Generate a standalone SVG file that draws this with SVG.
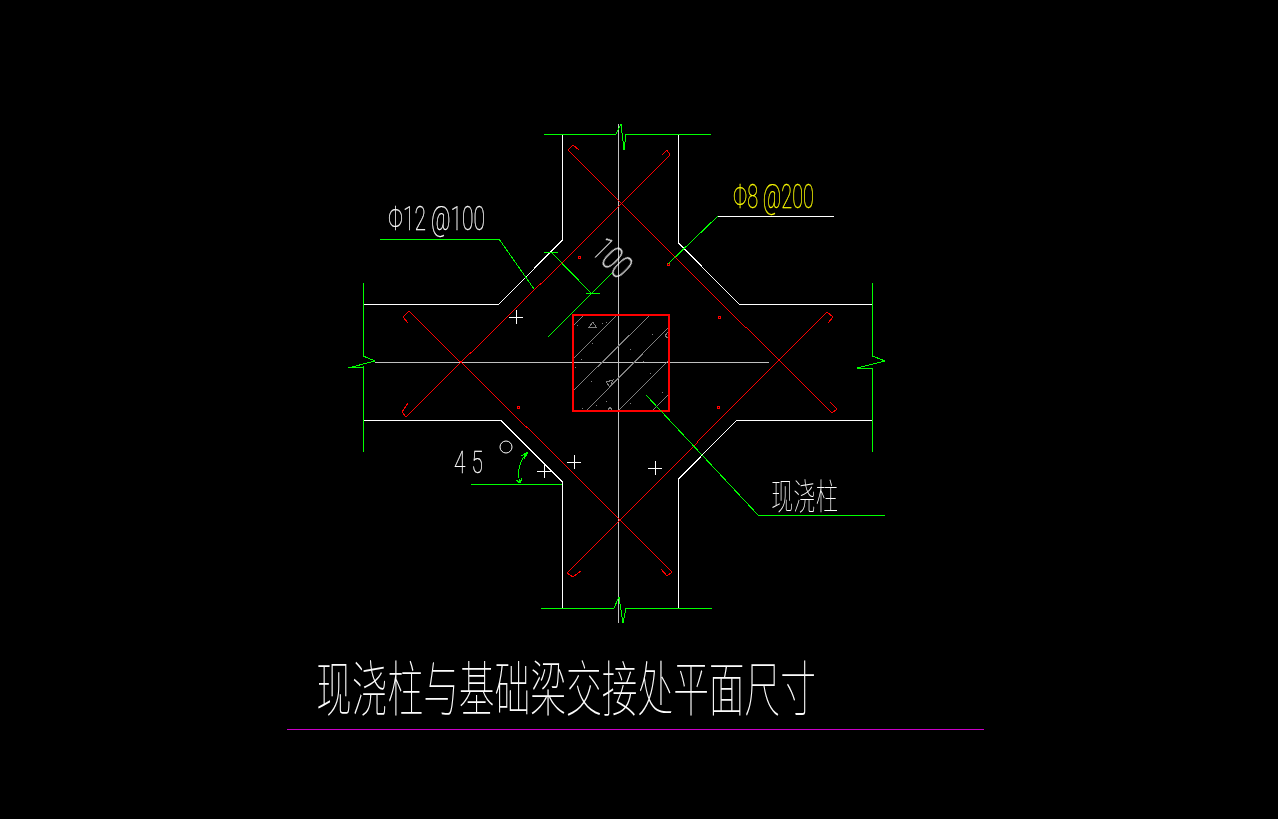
<svg xmlns="http://www.w3.org/2000/svg" width="1278" height="819" viewBox="0 0 1278 819">
<style>
.l{fill:none;stroke-width:1;shape-rendering:crispEdges}
.w{stroke:#fff}.g{stroke:#0f0}.r{stroke:#f00}.c{stroke:#c0c0c0}.h{stroke:#808080}
.t{font-family:"Roboto","Liberation Sans",sans-serif;font-weight:100;fill:#fff;stroke:#fff;stroke-width:.3}
.y{fill:#ff0;stroke:#ff0}
.z{font-family:"Noto Sans CJK SC",sans-serif;font-weight:100;fill:#fff}
</style>
<rect width="1278" height="819" fill="#000"/>
<g id="centerlines" class="l c">
<path d="M375 362H769M618.5 124V623"/>
</g>
<g id="hatch" class="l h">
<path d="M585 314L572 327M618 314L572 360M651 314L572 392M668 328L587 410M668 361L619 410M668 395L653 410"/>
<path d="M589 327L593 322L596 327ZM606 382L613 380L610 387ZM668 332L665 336L668 338M608 410L610 407L612 410"/>
<path d="M577 325h1M602 323h1M606 322h1M592 343h1M630 349h1M652 334h1M581 359h1M643 361h1M575 367h1M650 373h1M591 381h1M662 392h1M606 401h1M596 405h1M582 408h1M630 403h1"/>
</g>
<g id="outline" class="l w">
<path d="M562.5 134V240L499 304H363"/>
<path d="M363 420H500.5L562.5 482V608"/>
<path d="M678.5 134V243L739 304H872.5"/>
<path d="M872.5 420H737L678.5 479V608"/>
</g>
<g id="breaklines" class="l g">
<path d="M544 134H616L621 124L624 150L626 134H711"/>
<path d="M541 608H614L619 597L623 623L626 608H712"/>
<path d="M363 283V356L375 361L348 368L363 367V452"/>
<path d="M872.5 283V356L885 361L857 368L872.5 369V452"/>
</g>
<g id="rebar" class="l r">
<path d="M579 150L573 145L568 150L745 327L746 327L832 413L837 409L830 402"/>
<path d="M662 155L667 150L670 155L540 285L540 284L470 354L470 353L406 417L402 412L408 403"/>
<path d="M408 323L403 317L409 311L460 362L460 361L526 427L526 426L672 572L667 576L661 569"/>
<path d="M828 323L833 317L827 312L697 442L697 443L567 573L573 577L581 571"/>
<rect x="578" y="256" width="2.500" height="2.500"/>
<rect x="667" y="263" width="2.500" height="2.500"/>
<rect x="718" y="316" width="2.500" height="2.500"/>
<rect x="517" y="406" width="2.500" height="2.500"/>
<rect x="717" y="406" width="2.500" height="2.500"/>
</g>
<rect id="column" x="572.500" y="314.500" width="96" height="96" fill="none" stroke="#f00" stroke-width="2" shape-rendering="crispEdges"/>
<g id="connectors" class="l g">
<path d="M380 239H499L534 289"/>
<path d="M544 252H558M551 252L591 293M586 293H600M548 337L612 273"/>
<path d="M668 264L718 216"/>
<path d="M646 395L758 515H885"/>
<path d="M471 484H562"/>
<path d="M528 452Q515 465 520 483M528 452L521 456M528 452L524 459M520 483L516 480M520 483L522 478"/>
</g>
<path id="leader-phi8" class="l w" d="M718 216H834"/>
<g id="crosses" class="l w">
<path d="M509 317H523M516 310V324"/>
<path d="M537 471H551M544 464V478"/>
<path d="M567 462H581M574 455V469"/>
<path d="M648 468H662M655 461V475"/>
</g>
<circle id="degree" cx="506" cy="447" r="6" fill="none" stroke="#fff"/>
<g id="labels" opacity=".99">
<text class="t" x="388" y="230" font-size="33" textLength="97" lengthAdjust="spacingAndGlyphs">Φ12 @100</text>
<text class="t y" x="733" y="208" font-size="33" textLength="81" lengthAdjust="spacingAndGlyphs">Φ8 @200</text>
<text class="t" transform="translate(590,252) rotate(45)" font-size="33" textLength="40" lengthAdjust="spacingAndGlyphs" style="stroke-width:.5">100</text>
<text class="t" transform="translate(454,473) scale(.65,1)" font-size="32" x="0 27">45</text>
<text class="z" x="771" y="510" font-size="36" textLength="67" lengthAdjust="spacingAndGlyphs">现浇柱</text>
<text class="z" x="316" y="711" font-size="60" textLength="500" lengthAdjust="spacingAndGlyphs">现浇柱与基础梁交接处平面尺寸</text>
</g>
<path id="title-line" class="l" stroke="#c800c8" d="M287 729.500H984"/>
</svg>
